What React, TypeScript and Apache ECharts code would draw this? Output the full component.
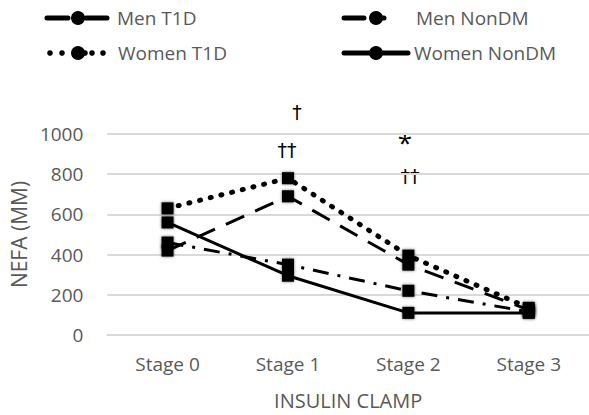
import React, { useEffect, useRef } from "react";
import * as echarts from "echarts";

const stages = ["Stage 0", "Stage 1", "Stage 2", "Stage 3"];
const menT1D = [420, 690, 350, 125];
const menNonDM = [460, 350, 220, 115];
const womenT1D = [630, 780, 395, 135];
const womenNonDM = [560, 295, 110, 110];
const yMin = 0;
const yMax = 1000;
const yInterval = 200;

const GRAY = "#595959";
const FONT = "'Open Sans', 'Noto Sans', sans-serif";

export default function App() {
  const ref = useRef<HTMLDivElement>(null);
  useEffect(() => {
    if (!ref.current) return;
    const chart = echarts.init(ref.current, undefined, { renderer: "svg" });
    const marker = {
      symbol: "rect",
      symbolSize: 12,
      itemStyle: { color: "#000", shadowBlur: 3, shadowColor: "rgba(0,0,0,0.6)" },
    };
    const legendText = (x: number, y: number, t: string) => ({
      type: "text",
      x,
      y,
      style: { text: t, fill: GRAY, font: `19px ${FONT}`, textVerticalAlign: "middle" },
    });
    const dot = (cx: number, cy: number, r: number) => ({
      type: "circle",
      shape: { cx, cy, r },
      style: { fill: "#000" },
    });
    const annot = (x: number, y: number, t: string, font: string) => ({
      type: "text",
      x,
      y,
      style: {
        text: t,
        fill: "#000",
        font,
        textAlign: "center",
        textVerticalAlign: "middle",
      },
    });
    const dagFont = `19px 'DejaVu Sans', sans-serif`;
    chart.setOption({
      animation: false,
      textStyle: { fontFamily: FONT },
      grid: { left: 107, right: -6, top: 134, bottom: 80 },
      xAxis: {
        type: "category",
        data: stages,
        boundaryGap: true,
        axisLine: { lineStyle: { color: "#d9d9d9", width: 2 } },
        axisTick: { show: false },
        axisLabel: { color: GRAY, fontSize: 19, margin: 19 },
        name: "INSULIN CLAMP",
        nameLocation: "middle",
        nameGap: 55,
        nameTextStyle: { color: GRAY, fontSize: 20 },
      },
      yAxis: {
        type: "value",
        min: yMin,
        max: yMax,
        interval: yInterval,
        axisLine: { show: false },
        axisTick: { show: false },
        splitLine: { lineStyle: { color: "#d9d9d9", width: 2 } },
        axisLabel: { color: GRAY, fontSize: 19, margin: 24, formatter: (v: number) => String(v) },
        name: "NEFA (MM)",
        nameLocation: "middle",
        nameGap: 75,
        nameTextStyle: { color: GRAY, fontSize: 21 },
      },
      series: [
        {
          name: "Men T1D",
          type: "line",
          data: menT1D,
          ...marker,
          lineStyle: { color: "#000", width: 3, type: [20, 12] },
          z: 3,
        },
        {
          name: "Men NonDM",
          type: "line",
          data: menNonDM,
          ...marker,
          lineStyle: { color: "#000", width: 3, type: [16, 9, 3, 9] },
          z: 3,
        },
        {
          name: "Women T1D",
          type: "line",
          data: womenT1D,
          ...marker,
          lineStyle: { color: "#000", width: 5, type: [1, 10], cap: "round" },
          z: 3,
        },
        {
          name: "Women NonDM",
          type: "line",
          data: womenNonDM,
          ...marker,
          lineStyle: { color: "#000", width: 3 },
          z: 3,
        },
      ],
      graphic: [
        // Men T1D legend
        { type: "line", shape: { x1: 47, y1: 18, x2: 107, y2: 18 }, style: { stroke: "#000", lineWidth: 5, lineDash: [21, 18], lineCap: "round" } },
        dot(78, 18, 7),
        legendText(117, 18, "Men T1D"),
        // Men NonDM legend
        { type: "line", shape: { x1: 344, y1: 18, x2: 364, y2: 18 }, style: { stroke: "#000", lineWidth: 5, lineCap: "round" } },
        { type: "line", shape: { x1: 376, y1: 18, x2: 384, y2: 18 }, style: { stroke: "#000", lineWidth: 5, lineCap: "round" } },
        dot(376, 18, 7),
        legendText(416, 18, "Men NonDM"),
        // Women T1D legend
        dot(50, 53, 2.8),
        dot(62, 53, 2.8),
        dot(78, 53, 7),
        dot(85, 53, 2.8),
        dot(92, 53, 2.8),
        dot(103, 53, 2.8),
        legendText(118, 53, "Women T1D"),
        // Women NonDM legend
        { type: "line", shape: { x1: 344, y1: 53, x2: 408, y2: 53 }, style: { stroke: "#000", lineWidth: 5, lineCap: "round" } },
        dot(376, 53, 7),
        legendText(414, 53, "Women NonDM"),
        // significance marks
        annot(297, 112, "†", dagFont),
        annot(287, 150, "††", dagFont),
        annot(405, 142, "*", `26px ${FONT}`),
        annot(410, 176, "††", dagFont),
      ],
    });
    return () => chart.dispose();
  }, []);
  return (
    <div
      ref={ref}
      style={{ position: "fixed", left: 0, top: 0, width: 589, height: 415, background: "#fff" }}
    />
  );
}
